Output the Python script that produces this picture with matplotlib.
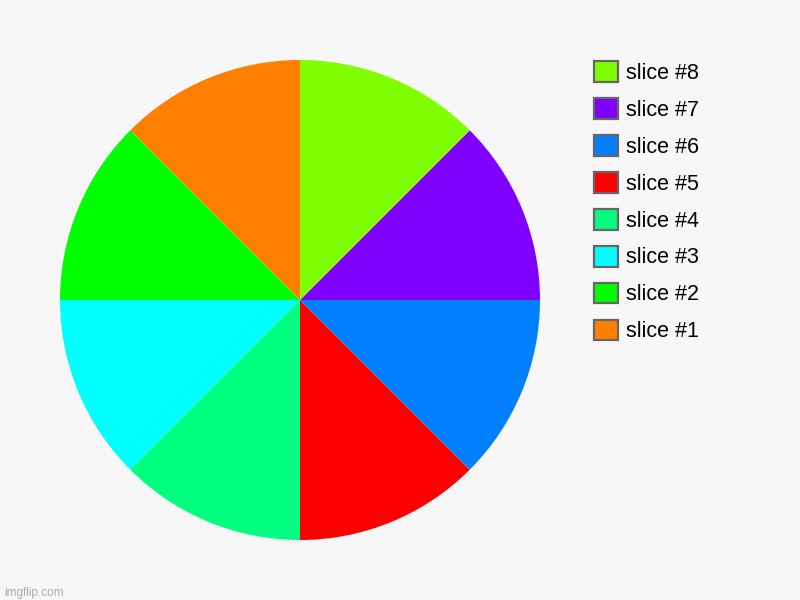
import matplotlib.pyplot as plt
from matplotlib.patches import Patch

plt.rcParams['font.family'] = ['Liberation Sans', 'DejaVu Sans']

labels = ['slice #1', 'slice #2', 'slice #3', 'slice #4',
          'slice #5', 'slice #6', 'slice #7', 'slice #8']
values = [1, 1, 1, 1, 1, 1, 1, 1]
colors = ['#FF8000', '#00FF00', '#00FFFF', '#00FF80',
          '#FF0000', '#0080FF', '#8000FF', '#80FF00']

bg = '#F7F7F7'
fig = plt.figure(figsize=(8, 6), dpi=100, facecolor=bg)
ax = fig.add_axes([60 / 800, 60 / 600, 480 / 800, 480 / 600])
ax.set_facecolor(bg)

ax.pie(values, colors=colors, startangle=90, counterclock=True,
       radius=1, wedgeprops={'linewidth': 0})
ax.set_xlim(-1, 1)
ax.set_ylim(-1, 1)
ax.set_aspect('equal')
ax.axis('off')

handles = [Patch(facecolor=c, edgecolor='#666666', linewidth=1.6) for c in colors]
fig.legend(handles[::-1], labels[::-1], loc='upper left',
           bbox_to_anchor=(594 / 800, 1 - 61 / 600), frameon=False,
           fontsize=15.5, handlelength=1.1, handleheight=1.1,
           handletextpad=0.4, labelspacing=0.665, borderpad=0, borderaxespad=0)

fig.text(4 / 800, 4 / 600, 'imgflip.com', fontsize=8.5, color='#AAAAAA')

plt.savefig('out.png', dpi=100, facecolor=bg)
